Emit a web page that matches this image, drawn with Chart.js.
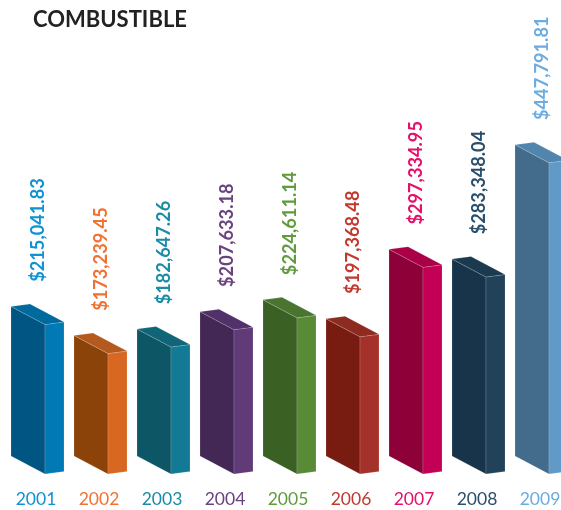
<!DOCTYPE html>
<html>
<head>
<meta charset="utf-8">
<title>Combustible</title>
<script src="https://cdn.jsdelivr.net/npm/chart.js@4"></script>
<style>
  html, body { margin: 0; padding: 0; background: #fff; overflow: hidden; }
  #wrap { width: 561px; height: 510px; overflow: hidden; }
</style>
</head>
<body>
<div id="wrap"><canvas id="chart" width="580" height="510"></canvas></div>
<script>
const years = ["2001", "2002", "2003", "2004", "2005", "2006", "2007", "2008", "2009"];
const amounts = [215041.83, 173239.45, 182647.26, 207633.18, 224611.14, 197368.48, 297334.95, 283348.04, 447791.81];
const frontColors = ["#005582", "#8c4309", "#0c5666", "#432755", "#3a6024", "#781c12", "#8e0038", "#18344a", "#436c8c"];
const sideColors = ["#0079b5", "#d86821", "#127a94", "#603b78", "#588a38", "#a5322a", "#c40056", "#214259", "#5f9ac8"];
const topColors = ["#00699e", "#b55a1e", "#116578", "#52316a", "#4a7530", "#8e2b20", "#a90048", "#1b3a50", "#5285ad"];
const labelColors = ["#0f93d2", "#f07232", "#1a8ca6", "#69437f", "#629a3e", "#c13a30", "#e5106a", "#2a4f6c", "#6cace0"];
const chartTitle = "COMBUSTIBLE";
const yMax = 656000;

const fontName = "Lato, 'Open Sans', sans-serif";

function poly(ctx, pts, fill) {
  ctx.beginPath();
  pts.forEach((p, i) => i ? ctx.lineTo(p[0], p[1]) : ctx.moveTo(p[0], p[1]));
  ctx.closePath();
  ctx.fillStyle = fill;
  ctx.fill();
  ctx.strokeStyle = "rgba(255,255,255,0.25)";
  ctx.lineWidth = 0.6;
  ctx.stroke();
}

// the library only gives flat bars, so the boxes are drawn over its bar elements
const boxPlugin = {
  id: "boxes",
  afterDatasetsDraw(chart) {
    const ctx = chart.ctx;
    const w = 34, dx = 19, dy = 2.5, skew = 18;
    chart.getDatasetMeta(0).data.forEach((bar, i) => {
      const l = bar.x - 25, r = l + w, top = bar.y, base = bar.base;
      poly(ctx, [[l, top], [r, top + skew], [r, base + skew], [l, base]], frontColors[i]);
      poly(ctx, [[r, top + skew], [r + dx, top + skew - dy], [r + dx, base + skew - dy], [r, base + skew]], sideColors[i]);
      poly(ctx, [[l, top], [l + dx, top - dy], [r + dx, top + skew - dy], [r, top + skew]], topColors[i]);

      // value label, turned on its side
      ctx.save();
      ctx.translate(bar.x + 2.5, top - 76.5);
      ctx.rotate(-Math.PI / 2);
      ctx.font = "bold 18.2px " + fontName;
      ctx.fillStyle = labelColors[i];
      ctx.textAlign = "center";
      ctx.textBaseline = "middle";
      ctx.fillText("$" + amounts[i].toLocaleString("en-US", { minimumFractionDigits: 2 }), 0, 0);
      ctx.restore();
    });

    ctx.save();
    ctx.font = "bold 22px " + fontName;
    ctx.fillStyle = "#222222";
    ctx.textAlign = "left";
    ctx.textBaseline = "middle";
    ctx.fillText(chartTitle, 33, 20);
    ctx.restore();
  }
};

new Chart(document.getElementById("chart"), {
  type: "bar",
  data: {
    labels: years,
    datasets: [{ data: amounts, backgroundColor: "rgba(0,0,0,0)", barThickness: 34 }]
  },
  options: {
    responsive: false,
    animation: false,
    layout: { padding: { left: 4.5, right: 8.5, top: 0, bottom: 0 } },
    plugins: { legend: { display: false }, tooltip: { enabled: false } },
    scales: {
      x: {
        grid: { display: false, drawTicks: true, tickLength: 33, tickColor: "rgba(0,0,0,0)" },
        border: { display: false },
        ticks: {
          color: c => labelColors[c.index],
          font: { family: fontName, size: 17.5 },
          padding: 0,
          maxRotation: 0,
          autoSkip: false
        }
      },
      y: { display: false, min: 0, max: yMax }
    }
  },
  plugins: [boxPlugin]
});
</script>
</body>
</html>
